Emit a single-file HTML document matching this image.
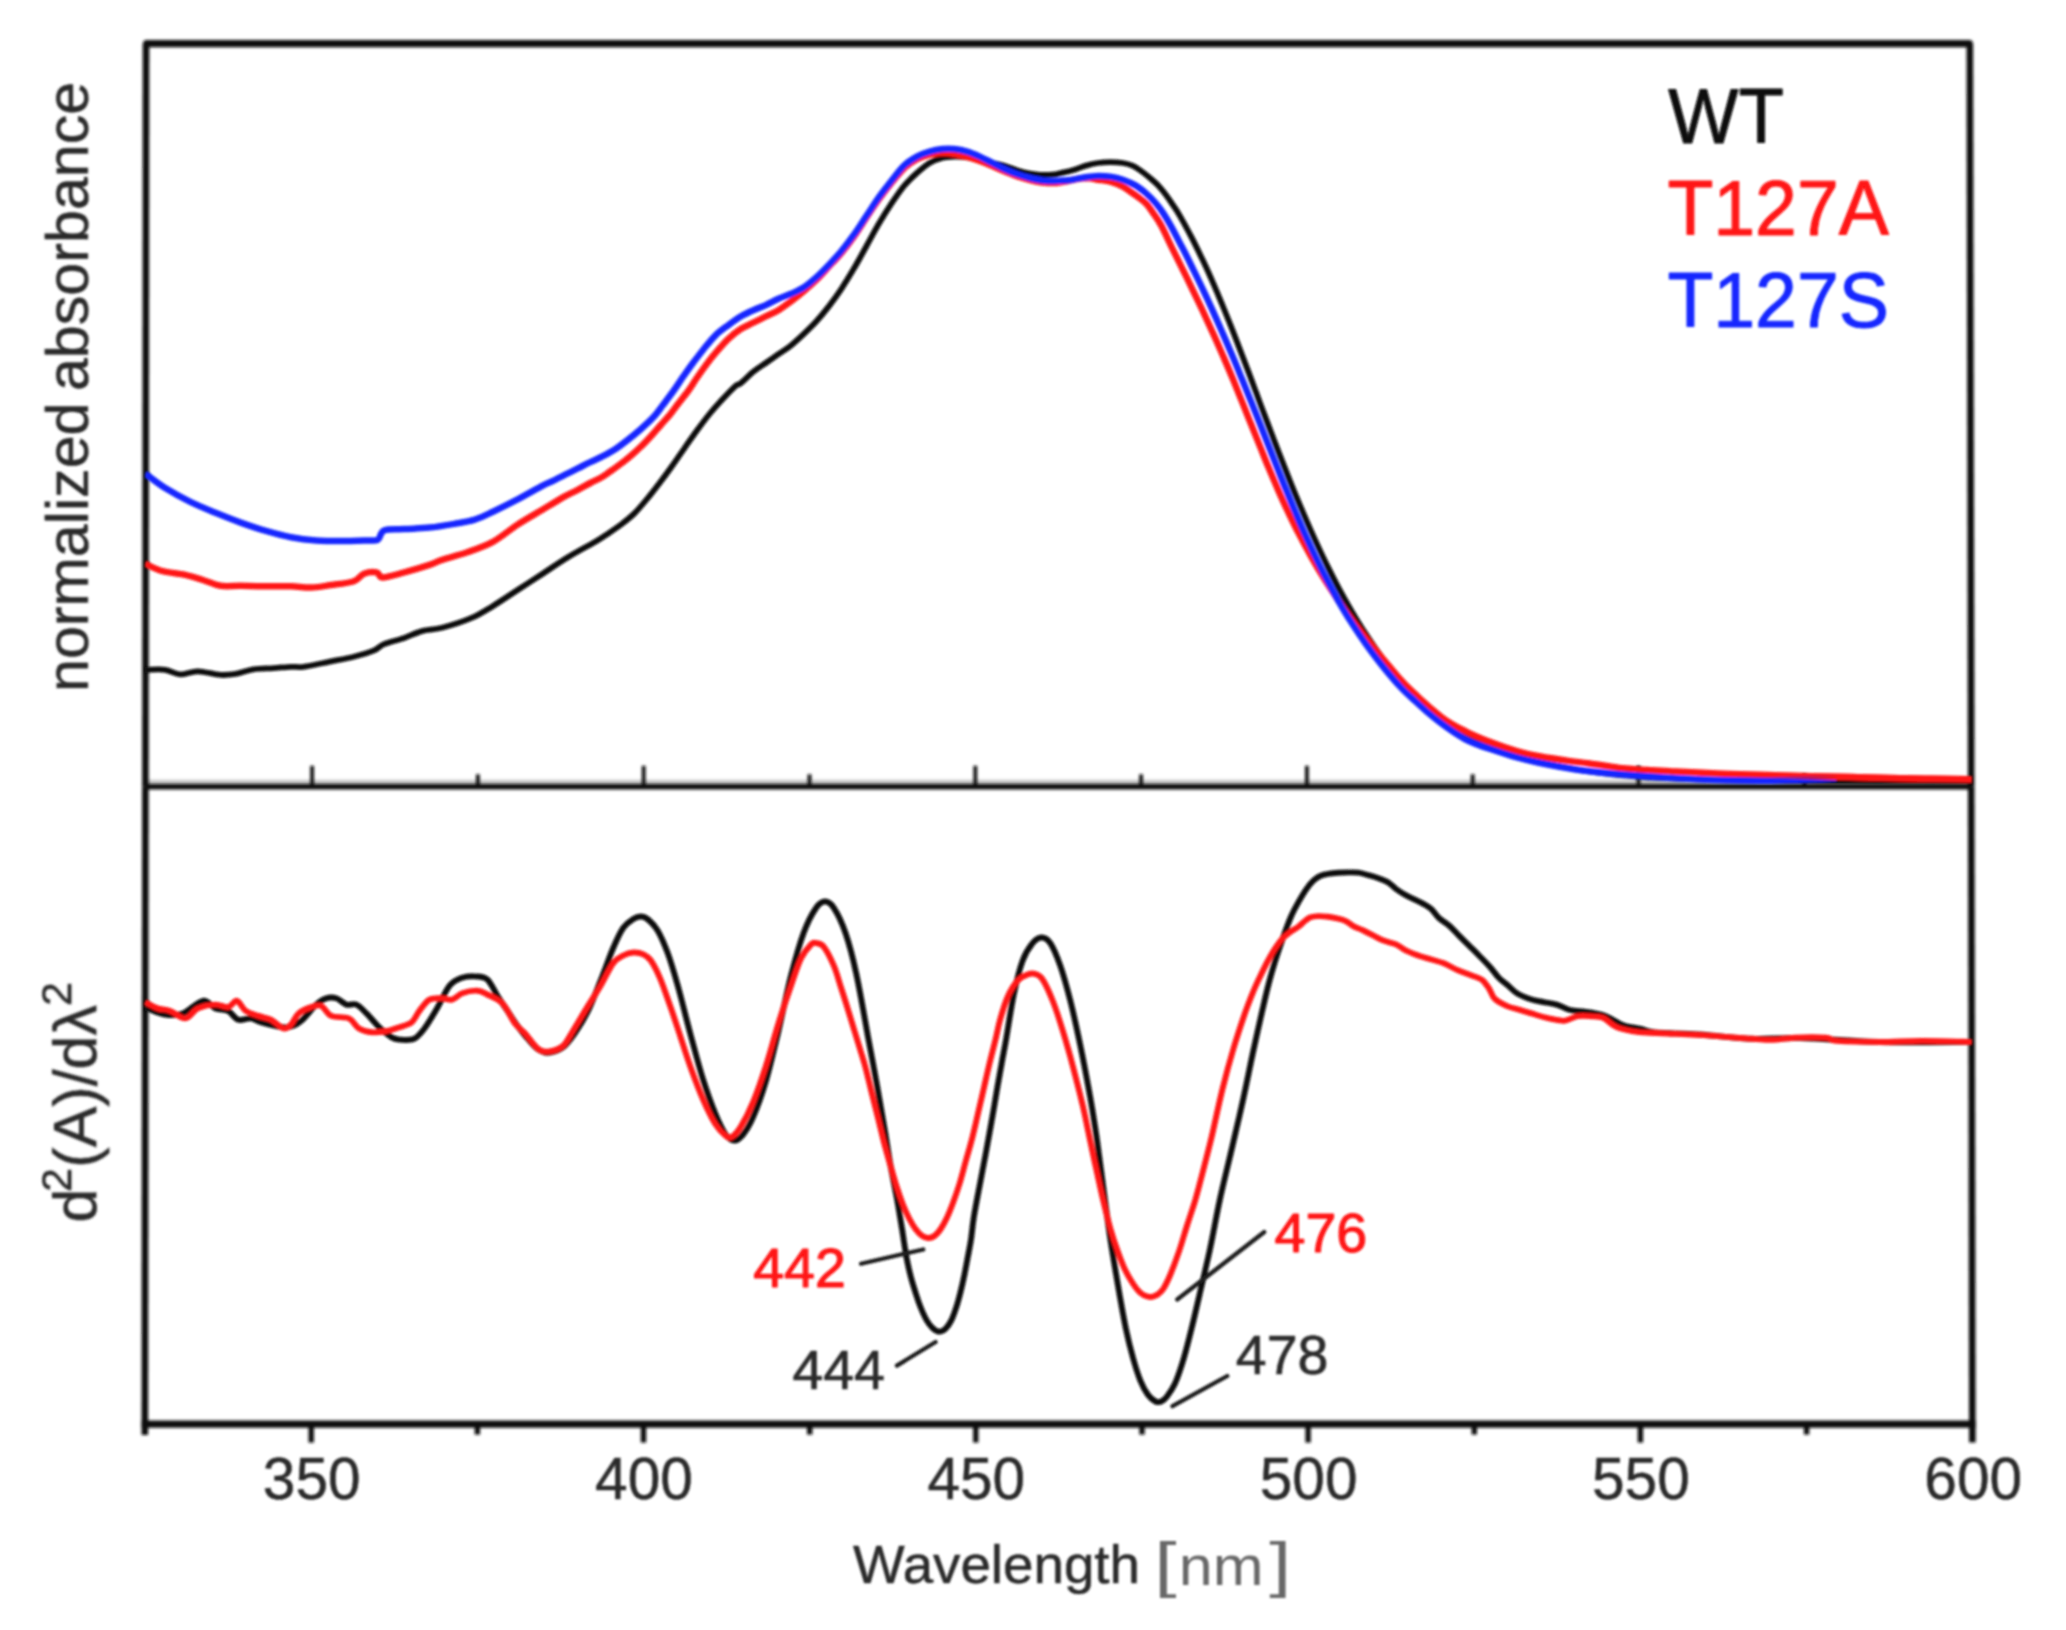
<!DOCTYPE html>
<html lang="en"><head><meta charset="utf-8"><title>Absorbance spectra</title>
<style>html,body{margin:0;padding:0;background:#fff}body{width:2066px;height:1630px;overflow:hidden}svg{display:block}text{font-family:"Liberation Sans",sans-serif}</style></head><body>
<svg width="2066" height="1630" viewBox="0 0 2066 1630">
<rect width="2066" height="1630" fill="#fff"/>
<defs><filter id="bl" x="0" y="0" width="2066" height="1630" filterUnits="userSpaceOnUse"><feGaussianBlur stdDeviation="1.55"/></filter><filter id="bt" x="0" y="0" width="2066" height="1630" filterUnits="userSpaceOnUse"><feGaussianBlur stdDeviation="1.25"/></filter><filter id="bc" x="0" y="0" width="2066" height="1630" filterUnits="userSpaceOnUse"><feGaussianBlur stdDeviation="1.0"/></filter><linearGradient id="tg" gradientUnits="userSpaceOnUse" x1="1740" y1="0" x2="1840" y2="0"><stop offset="0" stop-color="#ff1212" stop-opacity="0"/><stop offset="1" stop-color="#ff1212" stop-opacity="1"/></linearGradient><clipPath id="ct"><rect x="145.0" y="43.7" width="1826.8" height="747.1"/></clipPath><clipPath id="cb"><rect x="143.8" y="786.8" width="1829.6" height="637.3"/></clipPath></defs>
<g filter="url(#bl)">
<g stroke="#101010" fill="none" stroke-linecap="butt">
<path d="M145.4 786.8 L146.0 43.7" stroke-width="6.6"/>
<path d="M1971.2 786.8 L1969.8 43.7" stroke-width="6.6"/>
<path d="M146.6 43.7 L1969.2 43.7" stroke-width="7.3" stroke-linecap="round"/>
<path d="M145.4 786.8 L144.8 1435.1" stroke-width="6.6"/>
<path d="M1971.2 786.8 L1972.4 1442.6" stroke-width="6.6"/>
<line x1="141.5" y1="1424.1" x2="1975.7" y2="1424.1" stroke-width="7.3"/>
<line x1="145.4" y1="782.2" x2="1971.2" y2="782.2" stroke-width="5" stroke-opacity="0.22"/>
<line x1="145.4" y1="786.8" x2="1971.2" y2="786.8" stroke-width="5.6"/>
<line x1="311.2" y1="1424.1" x2="311.2" y2="1442.6" stroke-width="5.4"/>
<line x1="312.1" y1="786.8" x2="312.1" y2="765.8" stroke-width="3.8"/>
<line x1="643.5" y1="1424.1" x2="643.5" y2="1442.6" stroke-width="5.4"/>
<line x1="643.7" y1="786.8" x2="643.7" y2="765.8" stroke-width="3.8"/>
<line x1="975.8" y1="1424.1" x2="975.8" y2="1442.6" stroke-width="5.4"/>
<line x1="975.3" y1="786.8" x2="975.3" y2="765.8" stroke-width="3.8"/>
<line x1="1308.1" y1="1424.1" x2="1308.1" y2="1442.6" stroke-width="5.4"/>
<line x1="1306.9" y1="786.8" x2="1306.9" y2="765.8" stroke-width="3.8"/>
<line x1="1640.4" y1="1424.1" x2="1640.4" y2="1442.6" stroke-width="5.4"/>
<line x1="1638.5" y1="786.8" x2="1638.5" y2="765.8" stroke-width="3.8"/>
<line x1="477.4" y1="1424.1" x2="477.4" y2="1434.6" stroke-width="5.4"/>
<line x1="477.9" y1="786.8" x2="477.9" y2="774.3" stroke-width="3.8"/>
<line x1="809.7" y1="1424.1" x2="809.7" y2="1434.6" stroke-width="5.4"/>
<line x1="809.5" y1="786.8" x2="809.5" y2="774.3" stroke-width="3.8"/>
<line x1="1142.0" y1="1424.1" x2="1142.0" y2="1434.6" stroke-width="5.4"/>
<line x1="1141.1" y1="786.8" x2="1141.1" y2="774.3" stroke-width="3.8"/>
<line x1="1474.3" y1="1424.1" x2="1474.3" y2="1434.6" stroke-width="5.4"/>
<line x1="1472.7" y1="786.8" x2="1472.7" y2="774.3" stroke-width="3.8"/>
<line x1="1806.6" y1="1424.1" x2="1806.6" y2="1434.6" stroke-width="5.4"/>
<line x1="1804.3" y1="786.8" x2="1804.3" y2="774.3" stroke-width="3.8"/>
</g>
</g>
<g filter="url(#bc)">
<g clip-path="url(#ct)" fill="none" stroke-linejoin="round" stroke-linecap="butt" stroke-width="6.5">
<path stroke="#0e0e0e" stroke-width="5.8" d="M145.0 669.5C145.4 669.5 144.2 669.8 147.6 669.8C151.0 669.8 159.8 669.0 165.2 669.8C170.6 670.6 174.9 674.1 180.3 674.4C185.8 674.6 191.2 671.2 197.9 671.3C204.6 671.4 214.2 674.5 220.5 674.9C226.8 675.3 230.1 674.8 235.6 673.9C241.1 673.0 247.0 670.3 253.3 669.3C259.6 668.3 267.1 668.5 273.4 668.1C279.7 667.7 286.0 667.0 291.0 666.8C296.0 666.6 297.3 667.6 303.6 666.8C309.9 666.0 320.4 663.5 328.8 661.8C337.2 660.1 346.3 658.6 353.9 656.7C361.4 654.8 369.1 652.5 374.1 650.4C379.1 648.3 379.1 646.2 384.1 644.1C389.1 642.0 398.0 640.1 404.3 637.9C410.6 635.7 415.6 632.8 421.9 631.1C428.2 629.4 433.6 630.0 442.0 627.8C450.4 625.6 463.8 621.3 472.2 617.7C480.6 614.1 484.8 611.0 492.4 606.4C500.0 601.8 509.2 595.5 517.6 590.0C526.0 584.5 534.3 579.2 542.7 573.7C551.1 568.2 558.9 562.8 567.9 557.3C576.9 551.8 589.7 545.1 596.6 541.0C603.5 536.9 605.0 535.6 609.2 532.8C613.4 530.0 617.6 527.2 621.8 524.0C626.0 520.8 630.2 517.6 634.4 513.4C638.6 509.2 642.8 504.1 647.0 499.0C651.2 493.9 655.4 488.5 659.6 483.0C663.8 477.5 667.9 471.9 672.1 466.0C676.3 460.1 680.5 453.8 684.7 447.8C688.9 441.8 693.1 435.7 697.3 430.0C701.5 424.3 705.7 418.6 709.9 413.5C714.1 408.4 718.3 403.8 722.5 399.3C726.7 394.8 732.1 389.1 735.1 386.4C738.1 383.7 737.7 385.6 740.7 383.2C743.7 380.8 749.1 375.2 753.3 371.8C757.5 368.4 761.6 365.9 765.8 363.0C770.0 360.1 774.2 357.1 778.4 354.2C782.6 351.3 786.8 348.8 791.0 345.4C795.2 342.0 799.4 338.1 803.6 334.1C807.8 330.1 812.0 326.1 816.2 321.5C820.4 316.9 824.6 311.8 828.8 306.4C833.0 300.9 837.2 295.1 841.4 288.8C845.6 282.5 849.7 275.7 853.9 268.6C858.1 261.5 862.3 253.6 866.5 246.0C870.7 238.4 874.9 230.4 879.1 223.3C883.3 216.2 887.5 209.5 891.7 203.2C895.9 196.9 900.1 190.6 904.3 185.6C908.5 180.6 912.7 176.8 916.9 173.0C921.1 169.2 925.3 165.4 929.5 162.9C933.7 160.4 937.8 159.0 942.0 157.9C946.2 156.8 950.4 156.7 954.6 156.6C958.8 156.5 963.0 156.8 967.2 157.4C971.4 158.0 975.6 159.0 979.8 159.9C984.0 160.8 988.2 161.9 992.4 162.9C996.6 163.9 1000.8 164.6 1005.0 165.9C1009.2 167.2 1013.3 169.2 1017.5 170.5C1021.7 171.8 1025.9 172.8 1030.1 173.5C1034.3 174.2 1038.5 174.9 1042.7 175.0C1046.9 175.1 1052.4 174.6 1055.3 174.3C1058.2 174.0 1057.1 173.9 1060.0 173.2C1062.9 172.5 1068.4 171.5 1072.6 170.3C1076.8 169.1 1081.0 167.1 1085.2 165.9C1089.4 164.7 1093.6 163.6 1097.8 163.0C1102.0 162.4 1106.1 162.1 1110.3 162.1C1114.5 162.1 1119.1 162.4 1122.9 163.0C1126.7 163.6 1129.8 164.5 1133.0 165.9C1136.2 167.3 1138.9 169.4 1141.8 171.5C1144.7 173.6 1147.9 176.2 1150.6 178.5C1153.3 180.8 1155.9 183.0 1158.2 185.4C1160.5 187.8 1162.2 190.0 1164.5 193.0C1166.8 196.0 1169.5 199.8 1172.0 203.6C1174.5 207.4 1176.4 209.9 1179.7 215.6C1183.0 221.3 1187.9 230.3 1191.7 237.6C1195.5 244.9 1199.0 252.3 1202.5 259.6C1206.0 266.9 1209.3 274.3 1212.5 281.6C1215.7 288.9 1218.8 296.3 1221.8 303.6C1224.8 310.9 1227.8 318.3 1230.7 325.6C1233.6 332.9 1236.4 340.3 1239.2 347.6C1242.0 354.9 1244.8 362.3 1247.6 369.6C1250.4 376.9 1253.1 384.3 1255.8 391.6C1258.5 398.9 1261.2 406.3 1264.0 413.6C1266.8 420.9 1269.5 428.3 1272.3 435.6C1275.1 442.9 1277.9 450.3 1280.8 457.6C1283.7 464.9 1286.5 472.3 1289.4 479.6C1292.3 486.9 1295.3 494.3 1298.4 501.6C1301.5 508.9 1304.6 516.3 1307.8 523.6C1311.0 530.9 1314.3 538.3 1317.7 545.6C1321.1 552.9 1324.6 560.3 1328.2 567.6C1331.8 574.9 1335.5 582.3 1339.5 589.6C1343.5 596.9 1347.6 604.3 1351.9 611.6C1356.2 618.9 1360.7 626.3 1365.5 633.6C1370.3 640.9 1375.2 648.3 1380.6 655.6C1385.9 662.9 1387.5 666.9 1397.6 677.6C1407.7 688.3 1429.9 710.3 1441.4 720.0C1452.9 729.7 1458.1 731.3 1466.5 736.0C1474.9 740.7 1483.3 744.7 1491.7 748.0C1500.1 751.3 1508.5 753.6 1516.9 756.0C1525.3 758.4 1529.4 759.8 1542.0 762.5C1554.6 765.2 1575.6 769.6 1592.4 772.0C1609.2 774.4 1621.8 775.7 1642.7 777.0C1663.6 778.3 1691.8 779.3 1718.0 780.0C1744.2 780.7 1757.7 780.8 1800.0 781.0C1842.3 781.2 1943.3 781.4 1972.0 781.5"/>
<path stroke="#ff1212" d="M145.0 563.5C145.4 563.7 144.7 563.6 147.6 564.9C150.5 566.2 156.4 569.5 162.7 571.2C169.0 572.9 178.6 573.4 185.3 574.9C192.0 576.4 197.0 578.2 202.9 580.0C208.8 581.8 214.2 584.8 220.5 585.8C226.8 586.8 233.1 585.7 240.7 585.8C248.3 585.9 257.5 586.2 265.9 586.3C274.3 586.4 283.4 586.1 291.0 586.3C298.6 586.5 304.5 587.7 311.2 587.5C317.9 587.3 324.2 586.0 331.3 585.0C338.4 584.0 348.4 583.1 353.9 581.2C359.3 579.3 360.2 575.2 364.0 573.7C367.8 572.2 373.5 571.8 376.6 572.4C379.8 573.0 378.3 577.4 382.9 577.4C387.5 577.4 396.5 574.5 404.3 572.4C412.1 570.3 423.2 567.0 429.5 564.9C435.8 562.8 435.7 561.9 442.0 559.8C448.3 557.7 458.8 555.2 467.2 552.3C475.6 549.4 484.0 546.8 492.4 542.2C500.8 537.6 509.2 530.1 517.6 524.6C526.0 519.1 536.9 513.0 542.7 509.5C548.5 506.0 548.9 505.8 552.6 503.6C556.4 501.4 561.0 498.4 565.2 496.1C569.4 493.8 573.6 492.0 577.8 489.8C582.0 487.6 586.5 485.0 590.3 483.0C594.1 481.0 597.0 479.9 600.4 478.0C603.8 476.1 607.1 473.6 610.5 471.3C613.9 469.0 617.1 466.6 620.5 464.0C623.9 461.4 627.2 458.9 630.6 456.0C634.0 453.1 637.4 450.1 640.7 446.8C644.1 443.6 647.4 440.1 650.7 436.5C654.1 432.9 657.4 428.8 660.8 425.0C664.2 421.2 668.0 417.1 670.9 413.5C673.8 409.9 675.5 407.3 678.4 403.5C681.3 399.7 685.5 394.6 688.5 390.5C691.5 386.4 693.2 383.3 696.1 379.0C699.0 374.7 702.8 369.3 706.1 364.8C709.5 360.3 712.5 356.5 716.2 352.2C719.9 347.9 724.0 343.0 728.1 339.1C732.2 335.2 736.5 331.7 740.7 329.0C744.9 326.3 749.1 324.8 753.3 322.7C757.5 320.6 761.6 318.5 765.8 316.4C770.0 314.3 774.2 312.7 778.4 310.2C782.6 307.7 786.8 304.4 791.0 301.3C795.2 298.2 799.4 294.9 803.6 291.3C807.8 287.8 812.0 284.1 816.2 280.0C820.4 275.9 824.6 271.1 828.8 266.6C833.0 262.1 837.2 257.8 841.4 252.8C845.6 247.8 849.7 242.4 853.9 236.5C858.1 230.6 862.3 223.8 866.5 217.5C870.7 211.2 874.9 204.7 879.1 198.9C883.3 193.1 887.5 187.7 891.7 182.5C895.9 177.3 900.1 171.9 904.3 168.0C908.5 164.1 912.7 161.2 916.9 159.0C921.1 156.8 925.3 155.5 929.5 154.5C933.7 153.5 937.8 153.1 942.0 153.0C946.2 152.9 950.4 153.3 954.6 154.0C958.8 154.7 963.0 155.8 967.2 157.0C971.4 158.2 975.6 159.5 979.8 161.0C984.0 162.5 988.2 164.2 992.4 166.0C996.6 167.8 1000.8 169.8 1005.0 171.5C1009.2 173.2 1013.3 175.1 1017.5 176.5C1021.7 177.9 1025.9 179.0 1030.1 180.0C1034.3 181.0 1038.5 182.0 1042.7 182.5C1046.9 183.0 1051.1 183.2 1055.3 183.0C1059.5 182.8 1063.7 181.8 1067.9 181.0C1072.1 180.2 1076.8 178.9 1080.5 178.5C1084.2 178.1 1087.1 178.1 1090.0 178.3C1092.9 178.5 1094.4 179.1 1097.8 179.7C1101.2 180.2 1106.1 180.4 1110.3 181.6C1114.5 182.8 1119.1 184.6 1122.9 186.6C1126.7 188.6 1130.2 191.5 1133.0 193.5C1135.8 195.5 1137.8 196.8 1140.0 198.5C1142.2 200.2 1144.3 201.6 1146.5 204.0C1148.7 206.4 1150.7 209.5 1153.2 213.1C1155.7 216.7 1158.2 219.8 1161.3 225.6C1164.4 231.3 1168.3 240.3 1171.9 247.6C1175.5 254.9 1179.2 262.3 1182.8 269.6C1186.4 276.9 1190.0 284.3 1193.5 291.6C1197.0 298.9 1200.6 306.3 1204.0 313.6C1207.4 320.9 1210.8 328.3 1214.1 335.6C1217.4 342.9 1220.6 350.3 1223.8 357.6C1227.0 364.9 1230.1 372.3 1233.1 379.6C1236.1 386.9 1239.0 394.3 1242.0 401.6C1245.0 408.9 1247.8 416.3 1250.8 423.6C1253.8 430.9 1256.7 438.3 1259.7 445.6C1262.7 452.9 1265.5 460.3 1268.6 467.6C1271.6 474.9 1274.8 482.3 1278.0 489.6C1281.2 496.9 1284.5 504.3 1288.0 511.6C1291.5 518.9 1295.0 526.3 1298.8 533.6C1302.6 540.9 1306.5 548.3 1310.6 555.6C1314.7 562.9 1319.0 570.3 1323.5 577.6C1328.0 584.9 1332.8 592.3 1337.8 599.6C1342.8 606.9 1348.0 614.3 1353.4 621.6C1358.8 628.9 1364.5 636.3 1370.4 643.6C1376.3 650.9 1382.4 658.3 1388.7 665.6C1395.0 672.9 1399.5 679.0 1408.3 687.6C1417.1 696.2 1431.7 709.6 1441.4 717.0C1451.1 724.4 1458.1 727.5 1466.5 731.8C1474.9 736.0 1483.3 739.3 1491.7 742.5C1500.1 745.7 1508.5 748.6 1516.9 751.0C1525.3 753.4 1533.6 755.2 1542.0 756.8C1550.4 758.4 1559.5 759.5 1567.2 760.6C1574.9 761.7 1581.4 762.3 1588.0 763.2C1594.6 764.1 1600.7 765.1 1607.0 766.0C1613.3 766.9 1618.7 767.8 1625.9 768.5C1633.1 769.2 1641.7 769.7 1650.0 770.2C1658.3 770.7 1664.7 771.1 1676.0 771.6C1687.3 772.1 1704.0 772.9 1718.0 773.4C1732.0 773.9 1746.3 774.4 1760.0 774.8C1773.7 775.2 1785.0 775.5 1800.0 775.9C1815.0 776.3 1833.3 776.7 1850.0 777.1C1866.7 777.5 1879.7 777.9 1900.0 778.3C1920.3 778.7 1960.0 779.1 1972.0 779.3"/>
<path stroke="#1226ff" d="M145.0 474.0C145.4 474.2 144.2 473.1 147.6 475.5C151.0 477.9 158.1 483.7 165.2 488.1C172.3 492.5 181.9 497.8 190.3 501.9C198.7 506.0 207.1 509.3 215.5 512.8C223.9 516.2 232.3 519.6 240.7 522.6C249.1 525.6 257.5 528.5 265.9 530.9C274.3 533.3 282.6 535.6 291.0 537.2C299.4 538.8 307.8 539.8 316.2 540.4C324.6 541.0 333.0 541.0 341.4 541.0C349.8 541.0 360.4 540.6 366.5 540.4C372.6 540.2 375.0 541.4 377.9 539.7C380.8 538.0 379.7 532.2 384.1 530.4C388.5 528.6 396.7 529.6 404.3 529.1C411.9 528.6 421.1 528.5 429.5 527.6C437.9 526.7 447.1 525.1 454.6 523.8C462.2 522.5 468.5 521.6 474.8 519.6C481.1 517.6 485.3 515.4 492.4 512.0C499.5 508.6 509.2 503.8 517.6 499.4C526.0 495.0 536.9 488.7 542.7 485.6C548.5 482.5 548.9 482.8 552.6 481.0C556.4 479.2 561.0 476.8 565.2 474.7C569.4 472.6 573.6 470.5 577.8 468.4C582.0 466.3 586.1 464.1 590.3 462.1C594.5 460.1 598.7 458.4 602.9 456.2C607.1 454.0 611.3 451.8 615.5 449.0C619.7 446.2 623.9 442.9 628.1 439.6C632.3 436.3 636.5 432.9 640.7 429.2C644.9 425.5 649.5 421.4 653.3 417.3C657.1 413.2 659.9 409.0 663.3 404.6C666.6 400.2 670.0 395.7 673.4 391.0C676.8 386.3 680.1 381.0 683.5 376.2C686.9 371.4 690.1 366.8 693.5 362.3C696.9 357.8 699.9 353.7 703.6 349.2C707.3 344.7 711.4 339.3 715.5 335.3C719.6 331.3 723.9 328.4 728.1 325.3C732.3 322.2 736.5 319.0 740.7 316.5C744.9 314.0 749.1 312.1 753.3 310.2C757.5 308.3 761.6 307.0 765.8 305.1C770.0 303.2 774.2 300.7 778.4 298.8C782.6 296.9 786.8 295.7 791.0 293.8C795.2 291.9 799.4 290.2 803.6 287.5C807.8 284.8 812.0 281.2 816.2 277.4C820.4 273.6 824.6 269.3 828.8 264.9C833.0 260.5 837.2 256.0 841.4 251.0C845.6 246.0 849.7 240.6 853.9 234.7C858.1 228.8 862.3 222.1 866.5 215.8C870.7 209.5 874.9 202.8 879.1 196.9C883.3 191.0 887.5 185.8 891.7 180.5C895.9 175.2 900.1 169.4 904.3 165.4C908.5 161.4 912.7 158.9 916.9 156.6C921.1 154.3 925.3 152.8 929.5 151.6C933.7 150.3 937.8 149.5 942.0 149.1C946.2 148.7 950.4 148.7 954.6 149.1C958.8 149.5 963.0 150.3 967.2 151.6C971.4 152.8 975.6 154.7 979.8 156.6C984.0 158.5 988.2 160.8 992.4 162.9C996.6 165.0 1000.8 167.3 1005.0 169.2C1009.2 171.1 1013.3 172.8 1017.5 174.3C1021.7 175.8 1025.9 177.0 1030.1 178.0C1034.3 179.0 1038.5 180.0 1042.7 180.5C1046.9 181.0 1052.4 181.0 1055.3 181.0C1058.2 181.0 1057.1 180.9 1060.0 180.7C1062.9 180.5 1068.4 180.3 1072.6 179.7C1076.8 179.1 1081.0 177.8 1085.2 177.2C1089.4 176.6 1093.6 176.0 1097.8 175.9C1102.0 175.8 1106.1 176.0 1110.3 176.6C1114.5 177.2 1118.7 178.2 1122.9 179.7C1127.1 181.2 1131.7 183.2 1135.5 185.4C1139.3 187.6 1142.2 190.0 1145.6 192.9C1148.9 195.8 1152.7 199.6 1155.6 203.0C1158.5 206.4 1160.7 209.3 1163.2 213.1C1165.7 216.9 1167.5 219.8 1170.7 225.6C1173.9 231.3 1178.5 240.3 1182.3 247.6C1186.1 254.9 1189.7 262.3 1193.3 269.6C1196.9 276.9 1200.5 284.3 1203.9 291.6C1207.4 298.9 1210.7 306.3 1214.0 313.6C1217.3 320.9 1220.5 328.3 1223.7 335.6C1226.9 342.9 1230.0 350.3 1233.1 357.6C1236.2 364.9 1239.2 372.3 1242.2 379.6C1245.2 386.9 1248.1 394.3 1251.1 401.6C1254.0 408.9 1257.0 416.3 1259.9 423.6C1262.8 430.9 1265.6 438.3 1268.5 445.6C1271.4 452.9 1274.3 460.3 1277.2 467.6C1280.1 474.9 1283.0 482.3 1286.0 489.6C1289.0 496.9 1292.0 504.3 1295.1 511.6C1298.2 518.9 1301.3 526.3 1304.6 533.6C1307.9 540.9 1311.3 548.3 1314.8 555.6C1318.3 562.9 1321.9 570.3 1325.7 577.6C1329.5 584.9 1333.4 592.3 1337.6 599.6C1341.8 606.9 1346.1 614.3 1350.8 621.6C1355.5 628.9 1360.4 636.3 1365.6 643.6C1370.8 650.9 1376.3 658.3 1382.2 665.6C1388.1 672.9 1395.3 681.5 1401.0 687.6C1406.7 693.7 1411.6 697.7 1416.2 702.0C1420.8 706.3 1424.6 709.8 1428.8 713.4C1433.0 717.0 1437.2 720.3 1441.4 723.4C1445.6 726.5 1449.7 729.5 1453.9 732.2C1458.1 734.9 1462.3 737.6 1466.5 739.8C1470.7 741.9 1474.9 743.5 1479.1 745.1C1483.3 746.7 1485.4 747.4 1491.7 749.5C1498.0 751.6 1509.2 755.3 1516.9 757.5C1524.6 759.7 1528.0 760.5 1537.8 762.5C1547.6 764.5 1562.9 767.6 1575.5 769.5C1588.1 771.4 1602.8 772.8 1613.3 773.8C1623.8 774.8 1627.9 775.1 1638.4 775.8C1648.9 776.5 1663.6 777.5 1676.2 778.2C1688.8 778.9 1700.0 779.6 1714.0 780.0C1728.0 780.4 1747.3 780.7 1760.0 780.7C1772.7 780.7 1780.8 780.3 1790.0 780.0C1799.2 779.7 1807.3 779.4 1815.0 779.0C1822.7 778.6 1832.5 778.1 1836.0 777.9"/>
<path stroke="url(#tg)" d="M1718.0 773.4C1725.0 773.6 1746.3 774.4 1760.0 774.8C1773.7 775.2 1785.0 775.5 1800.0 775.9C1815.0 776.3 1833.3 776.7 1850.0 777.1C1866.7 777.5 1879.7 777.9 1900.0 778.3C1920.3 778.7 1960.0 779.1 1972.0 779.3"/>
</g>
<g clip-path="url(#cb)" fill="none" stroke-linejoin="round" stroke-linecap="butt" stroke-width="5.9">
<path stroke="#0e0e0e" d="M145.0 1007.5C145.4 1007.6 144.2 1007.2 147.6 1008.4C151.0 1009.6 159.3 1013.9 165.2 1014.7C171.1 1015.5 176.5 1015.7 182.8 1013.4C189.1 1011.1 197.5 1001.6 202.9 1000.8C208.3 1000.0 211.3 1006.7 215.5 1008.4C219.7 1010.1 224.3 1009.0 228.1 1010.9C231.9 1012.8 234.4 1018.5 238.2 1019.7C242.0 1021.0 246.9 1018.0 250.7 1018.4C254.5 1018.8 256.6 1020.9 260.8 1022.2C265.0 1023.5 271.3 1025.2 275.9 1026.0C280.5 1026.8 284.3 1028.0 288.5 1027.2C292.7 1026.4 296.5 1024.8 301.1 1021.0C305.7 1017.2 312.0 1008.4 316.2 1004.6C320.4 1000.8 322.9 999.3 326.3 998.3C329.7 997.2 333.0 997.2 336.3 998.3C339.6 999.3 343.0 1003.5 346.4 1004.6C349.8 1005.7 353.1 1003.1 356.5 1004.6C359.9 1006.1 362.7 1009.6 366.5 1013.4C370.3 1017.2 374.9 1023.2 379.1 1027.2C383.3 1031.2 387.9 1035.2 391.7 1037.3C395.5 1039.4 398.0 1039.6 401.8 1039.8C405.6 1040.0 410.6 1040.5 414.4 1038.6C418.2 1036.7 420.6 1033.5 424.4 1028.5C428.2 1023.5 432.8 1015.5 437.0 1008.4C441.2 1001.3 445.4 990.8 449.6 985.7C453.8 980.6 458.0 979.2 462.2 977.7C466.4 976.2 470.6 976.1 474.8 976.4C479.0 976.7 483.5 976.2 487.3 979.4C491.1 982.6 494.0 990.5 497.4 995.8C500.8 1001.0 504.1 1005.9 507.5 1010.9C510.9 1015.9 514.2 1021.4 517.6 1026.0C521.0 1030.6 524.2 1034.8 527.6 1038.6C531.0 1042.4 534.4 1046.8 537.7 1049.1C541.1 1051.4 543.5 1053.0 547.7 1052.7C551.9 1052.4 558.2 1050.8 562.8 1047.4C567.4 1044.0 571.2 1038.4 575.4 1032.3C579.6 1026.2 583.8 1019.5 588.0 1010.9C592.2 1002.3 596.4 991.2 600.6 980.7C604.8 970.2 609.4 956.8 613.2 948.0C617.0 939.2 619.9 932.6 623.3 927.8C626.6 923.0 630.3 920.9 633.3 919.0C636.2 917.1 638.6 916.5 641.0 916.5C643.4 916.5 644.8 916.8 647.6 919.1C650.4 921.4 654.2 924.8 657.6 930.5C661.0 936.2 664.3 943.9 667.7 953.1C671.1 962.3 674.0 972.4 677.8 985.8C681.6 999.2 686.1 1018.2 690.3 1033.7C694.5 1049.2 698.7 1065.6 702.9 1079.0C707.1 1092.4 711.7 1105.0 715.5 1114.2C719.3 1123.4 722.5 1130.0 725.6 1134.4C728.8 1138.8 731.5 1140.6 734.4 1140.6C737.3 1140.6 740.1 1138.4 743.2 1134.4C746.4 1130.4 749.5 1125.5 753.3 1116.7C757.1 1107.9 761.6 1095.8 765.8 1081.5C770.0 1067.2 774.2 1048.8 778.4 1031.2C782.6 1013.6 786.8 992.2 791.0 975.8C795.2 959.4 799.4 944.3 803.6 933.0C807.8 921.7 812.6 913.0 816.2 907.8C819.8 902.5 822.1 901.5 825.0 901.5C827.9 901.5 830.4 902.5 833.8 907.8C837.2 913.0 841.8 922.1 845.5 933.0C849.2 943.9 852.4 955.5 856.2 973.3C860.1 991.1 865.6 1023.6 868.6 1040.0C871.6 1056.4 872.6 1061.0 874.5 1071.5C876.4 1082.0 878.3 1092.4 880.1 1102.9C881.9 1113.4 883.8 1123.9 885.5 1134.4C887.2 1144.9 888.7 1155.3 890.6 1165.8C892.5 1176.3 894.8 1186.8 896.7 1197.3C898.6 1207.8 900.8 1221.6 902.0 1228.8C903.2 1236.0 903.0 1235.5 903.8 1240.6C904.6 1245.7 905.7 1253.3 906.9 1259.5C908.1 1265.7 909.5 1271.8 911.0 1277.6C912.5 1283.4 914.4 1289.0 916.0 1294.1C917.6 1299.2 919.1 1303.6 920.9 1308.0C922.7 1312.4 924.8 1317.1 926.7 1320.4C928.6 1323.7 930.4 1325.9 932.4 1327.8C934.4 1329.7 936.8 1331.5 939.0 1331.6C941.2 1331.7 943.6 1330.5 945.6 1328.6C947.6 1326.7 949.5 1324.0 951.3 1320.4C953.1 1316.8 954.8 1311.9 956.3 1307.2C957.8 1302.5 959.0 1297.9 960.4 1292.4C961.8 1286.9 963.3 1280.2 964.5 1274.3C965.7 1268.4 966.7 1262.9 967.8 1257.0C968.9 1251.1 970.1 1245.7 971.1 1238.9C972.1 1232.1 972.5 1225.0 974.0 1216.0C975.5 1207.0 977.8 1195.2 979.8 1184.7C981.8 1174.2 983.8 1163.8 985.8 1153.3C987.8 1142.8 989.6 1132.3 991.5 1121.8C993.4 1111.3 995.1 1100.4 996.9 1090.3C998.6 1080.2 1000.5 1069.8 1002.0 1061.4C1003.5 1053.0 1004.0 1051.3 1006.0 1040.0C1008.0 1028.7 1011.2 1006.6 1014.0 993.4C1016.8 980.2 1019.5 969.1 1022.6 960.7C1025.7 952.3 1029.4 947.0 1032.6 943.1C1035.8 939.2 1038.5 937.5 1041.5 937.5C1044.5 937.5 1047.2 938.4 1050.3 943.1C1053.4 947.8 1056.9 956.1 1060.3 965.7C1063.7 975.4 1067.0 987.6 1070.4 1001.0C1073.8 1014.4 1077.2 1030.5 1080.5 1046.3C1083.8 1062.1 1087.2 1080.4 1090.0 1096.0C1092.8 1111.6 1094.7 1123.8 1097.0 1140.0C1099.3 1156.2 1101.7 1175.7 1104.0 1193.0C1106.3 1210.3 1108.7 1228.1 1111.1 1243.8C1113.5 1259.5 1115.9 1273.3 1118.3 1287.3C1120.7 1301.3 1123.2 1315.8 1125.7 1327.8C1128.2 1339.8 1130.8 1350.0 1133.3 1359.0C1135.8 1368.0 1138.3 1375.7 1140.8 1381.7C1143.2 1387.7 1145.5 1391.6 1148.0 1394.9C1150.5 1398.2 1153.3 1400.4 1155.5 1401.5C1157.7 1402.6 1159.3 1402.3 1161.2 1401.5C1163.1 1400.7 1164.5 1399.7 1166.8 1396.7C1169.1 1393.7 1172.3 1389.5 1175.0 1383.5C1177.7 1377.5 1180.3 1369.7 1183.0 1360.9C1185.7 1352.1 1188.2 1341.7 1191.0 1330.7C1193.8 1319.7 1196.4 1308.2 1199.5 1294.8C1202.6 1281.3 1206.4 1265.8 1209.8 1250.0C1213.2 1234.2 1216.1 1217.0 1219.7 1200.3C1223.3 1183.6 1227.6 1166.7 1231.5 1150.0C1235.4 1133.3 1239.3 1116.7 1243.0 1100.0C1246.7 1083.3 1250.6 1063.3 1253.5 1050.0C1256.4 1036.7 1257.8 1030.4 1260.2 1019.9C1262.6 1009.4 1265.3 997.1 1267.8 987.2C1270.3 977.3 1272.8 968.9 1275.3 960.7C1277.8 952.5 1280.4 945.2 1282.9 938.1C1285.4 931.0 1287.9 923.9 1290.4 918.0C1292.9 912.1 1295.5 907.5 1298.0 902.9C1300.5 898.3 1303.0 894.0 1305.5 890.3C1308.0 886.6 1310.6 883.2 1313.1 880.8C1315.6 878.4 1318.1 876.9 1320.6 875.8C1323.1 874.6 1325.3 874.4 1328.2 873.9C1331.1 873.4 1334.9 873.0 1338.2 872.7C1341.5 872.5 1344.9 872.4 1348.3 872.4C1351.7 872.4 1355.1 872.2 1358.4 872.7C1361.8 873.2 1365.1 874.3 1368.4 875.2C1371.8 876.1 1375.1 877.0 1378.5 878.3C1381.9 879.5 1385.7 880.9 1388.6 882.7C1391.5 884.5 1393.6 887.1 1396.1 889.0C1398.6 890.9 1400.8 892.3 1403.7 894.0C1406.6 895.7 1410.4 897.4 1413.7 899.1C1417.0 900.8 1420.8 902.4 1423.8 904.1C1426.8 905.8 1428.9 906.9 1431.4 909.2C1433.9 911.5 1436.0 915.3 1438.9 918.0C1441.8 920.7 1445.7 922.6 1449.0 925.5C1452.3 928.4 1455.7 932.2 1459.0 935.6C1462.3 939.0 1465.7 942.2 1469.1 945.6C1472.5 949.0 1475.7 952.1 1479.2 955.7C1482.7 959.3 1486.7 963.3 1490.0 967.0C1493.3 970.7 1496.1 975.0 1499.0 978.0C1501.9 981.0 1504.2 982.1 1507.2 984.7C1510.2 987.3 1513.1 991.0 1517.3 993.5C1521.5 996.0 1527.8 998.3 1532.4 999.8C1537.0 1001.3 1540.8 1001.4 1545.0 1002.3C1549.2 1003.1 1553.3 1003.6 1557.5 1004.9C1561.7 1006.2 1565.4 1008.9 1570.1 1010.0C1574.8 1011.1 1580.2 1011.0 1585.6 1011.8C1591.0 1012.6 1598.0 1013.6 1602.6 1015.0C1607.2 1016.4 1609.7 1018.2 1613.2 1020.0C1616.8 1021.8 1619.3 1024.0 1623.9 1025.5C1628.5 1027.0 1635.6 1027.8 1640.9 1029.0C1646.2 1030.2 1646.0 1031.5 1655.8 1032.4C1665.6 1033.3 1684.0 1033.4 1700.0 1034.5C1716.0 1035.6 1735.0 1038.2 1751.7 1038.8C1768.4 1039.4 1778.7 1037.5 1800.0 1038.0C1821.3 1038.5 1850.8 1041.3 1879.5 1042.0C1908.2 1042.7 1956.6 1042.0 1972.0 1042.0"/>
<path stroke="#ff1212" d="M145.0 1002.0C145.4 1002.2 145.5 1002.2 147.6 1003.3C149.7 1004.4 153.8 1007.1 157.6 1008.4C161.4 1009.7 165.6 1009.2 170.2 1010.9C174.8 1012.6 180.7 1018.8 185.3 1018.4C189.9 1018.0 192.9 1010.7 197.9 1008.4C202.9 1006.1 210.5 1004.8 215.5 1004.6C220.5 1004.4 224.5 1007.7 228.1 1007.1C231.7 1006.5 234.0 1000.2 236.9 1000.8C239.8 1001.4 242.1 1008.4 245.7 1010.9C249.3 1013.4 254.1 1014.4 258.3 1015.9C262.5 1017.4 266.7 1017.6 270.9 1019.7C275.1 1021.8 280.1 1027.7 283.5 1028.5C286.9 1029.3 288.5 1027.2 291.0 1024.7C293.5 1022.2 295.2 1016.3 298.6 1013.4C302.0 1010.5 307.4 1008.4 311.2 1007.1C315.0 1005.9 317.8 1004.4 321.2 1005.9C324.6 1007.4 326.7 1013.8 331.3 1015.9C335.9 1018.0 344.3 1016.3 348.9 1018.4C353.5 1020.5 355.2 1026.2 359.0 1028.5C362.8 1030.8 367.0 1031.9 371.6 1032.3C376.2 1032.7 382.1 1031.8 386.7 1031.0C391.3 1030.2 395.1 1028.7 399.3 1027.2C403.5 1025.7 408.5 1024.9 411.8 1022.2C415.1 1019.5 416.4 1014.7 419.4 1010.9C422.3 1007.1 425.7 1001.7 429.5 999.6C433.3 997.5 438.2 998.3 442.0 998.3C445.8 998.3 448.7 1000.4 452.1 999.6C455.5 998.8 458.0 994.8 462.2 993.3C466.4 991.8 473.1 990.5 477.3 990.7C481.5 990.9 483.1 992.4 487.3 994.5C491.5 996.6 497.8 998.5 502.4 1003.3C507.0 1008.1 511.2 1018.5 515.0 1023.5C518.8 1028.5 521.3 1029.3 525.1 1033.5C528.9 1037.7 533.9 1045.6 537.7 1048.6C541.5 1051.6 543.5 1052.1 547.7 1051.7C551.9 1051.3 558.6 1049.5 562.8 1046.1C567.0 1042.6 568.7 1037.7 572.9 1031.0C577.1 1024.3 583.4 1013.4 588.0 1005.9C592.6 998.4 596.4 992.8 600.6 985.7C604.8 978.6 609.4 968.1 613.2 963.1C617.0 958.1 619.9 957.3 623.3 955.5C626.6 953.7 629.9 952.7 633.3 952.5C636.6 952.3 640.4 952.9 643.4 954.3C646.4 955.7 648.2 956.7 651.0 960.7C653.8 964.7 656.9 970.8 660.1 978.3C663.3 985.8 666.8 996.4 670.2 1006.0C673.6 1015.6 676.9 1026.1 680.3 1036.2C683.6 1046.3 686.5 1055.9 690.3 1066.4C694.1 1076.9 698.7 1089.4 702.9 1099.1C707.1 1108.8 711.7 1118.2 715.5 1124.3C719.3 1130.4 722.9 1133.5 725.6 1135.6C728.3 1137.7 729.4 1138.4 731.9 1136.9C734.4 1135.4 737.1 1132.7 740.7 1126.8C744.3 1120.9 749.1 1111.7 753.3 1101.6C757.5 1091.5 761.6 1079.4 765.8 1066.4C770.0 1053.4 774.2 1037.0 778.4 1023.6C782.6 1010.2 787.2 996.7 791.0 985.8C794.8 974.9 797.7 965.1 801.1 958.2C804.5 951.3 808.7 946.8 811.2 944.3C813.7 941.8 814.1 942.7 816.2 943.1C818.3 943.5 820.8 943.0 823.7 946.8C826.6 950.6 830.9 958.9 833.8 965.7C836.7 972.5 838.6 980.1 841.0 987.5C843.4 994.9 846.0 1003.0 848.2 1010.3C850.5 1017.5 852.5 1024.5 854.5 1031.0C856.5 1037.5 858.2 1042.9 860.0 1049.0C861.8 1055.1 863.6 1060.3 865.5 1067.5C867.4 1074.7 869.5 1083.8 871.5 1092.0C873.5 1100.2 875.7 1108.6 877.8 1117.0C879.9 1125.4 881.9 1134.5 884.0 1142.5C886.1 1150.5 888.2 1157.7 890.3 1165.0C892.4 1172.3 894.5 1179.9 896.6 1186.5C898.7 1193.1 900.8 1199.2 902.9 1204.5C905.0 1209.8 907.1 1214.4 909.2 1218.5C911.3 1222.6 913.4 1226.2 915.5 1229.0C917.6 1231.8 919.7 1234.1 921.8 1235.6C923.9 1237.1 926.0 1237.9 928.1 1238.0C930.2 1238.1 932.3 1237.5 934.4 1236.0C936.5 1234.5 938.6 1232.1 940.7 1229.0C942.8 1225.9 944.9 1222.0 947.0 1217.5C949.1 1213.0 951.2 1207.7 953.3 1202.0C955.4 1196.3 957.5 1190.3 959.6 1183.5C961.7 1176.7 963.7 1168.5 965.8 1161.0C967.9 1153.5 970.0 1146.7 972.1 1138.5C974.2 1130.3 976.4 1120.4 978.4 1111.7C980.4 1103.0 982.3 1095.0 984.2 1086.6C986.1 1078.2 988.1 1069.2 990.0 1061.4C991.9 1053.6 993.7 1046.9 995.4 1040.0C997.1 1033.1 998.0 1027.1 1000.0 1020.0C1002.0 1012.9 1004.6 1003.7 1007.5 997.2C1010.4 990.7 1014.1 984.6 1017.5 980.8C1020.9 977.0 1024.6 975.6 1027.6 974.5C1030.5 973.4 1032.7 973.1 1035.2 974.0C1037.7 974.9 1039.8 975.1 1042.7 979.6C1045.6 984.1 1049.4 992.4 1052.8 1001.0C1056.2 1009.6 1059.6 1020.3 1062.9 1031.2C1066.2 1042.1 1069.6 1053.8 1072.9 1066.4C1076.2 1079.0 1080.2 1094.4 1083.0 1106.7C1085.8 1119.0 1087.8 1129.4 1090.0 1140.0C1092.2 1150.6 1094.3 1160.1 1096.5 1170.2C1098.7 1180.3 1100.9 1190.7 1103.2 1200.4C1105.5 1210.2 1108.0 1220.2 1110.4 1228.7C1112.8 1237.2 1115.3 1244.5 1117.8 1251.4C1120.3 1258.3 1122.8 1265.0 1125.3 1270.3C1127.8 1275.6 1130.4 1279.7 1132.9 1283.5C1135.4 1287.3 1137.9 1290.7 1140.4 1292.9C1142.9 1295.1 1145.5 1296.2 1148.0 1296.7C1150.5 1297.2 1153.0 1297.0 1155.5 1295.7C1158.0 1294.4 1160.6 1292.7 1163.1 1289.1C1165.6 1285.5 1167.9 1280.3 1170.6 1274.0C1173.2 1267.7 1176.2 1259.6 1179.0 1251.4C1181.8 1243.2 1184.5 1233.5 1187.2 1225.0C1189.9 1216.5 1192.7 1208.6 1195.2 1200.3C1197.7 1192.0 1199.8 1183.4 1202.0 1175.0C1204.2 1166.6 1206.6 1157.3 1208.4 1150.0C1210.2 1142.7 1210.7 1141.2 1213.0 1131.0C1215.3 1120.8 1219.1 1102.8 1222.5 1089.0C1225.9 1075.2 1229.8 1060.9 1233.5 1048.5C1237.2 1036.1 1241.2 1024.1 1244.5 1014.5C1247.8 1004.9 1250.8 997.6 1253.5 991.0C1256.2 984.4 1258.6 979.6 1261.0 974.6C1263.4 969.6 1265.4 965.4 1267.8 961.0C1270.2 956.6 1272.8 952.0 1275.3 948.2C1277.8 944.4 1280.4 940.8 1282.9 938.1C1285.4 935.4 1287.9 933.6 1290.4 931.8C1292.9 929.9 1295.5 928.9 1298.0 927.0C1300.5 925.1 1303.4 922.1 1305.5 920.5C1307.6 918.9 1308.4 918.0 1310.5 917.3C1312.6 916.6 1315.1 916.2 1318.1 916.1C1321.0 916.0 1324.8 916.3 1328.2 916.7C1331.6 917.1 1335.3 917.9 1338.2 918.6C1341.1 919.3 1343.3 919.9 1345.8 921.1C1348.3 922.4 1350.4 924.5 1353.3 926.1C1356.2 927.7 1360.0 928.9 1363.4 930.5C1366.8 932.1 1370.2 933.9 1373.5 935.6C1376.8 937.3 1379.7 939.1 1383.5 940.6C1387.3 942.1 1392.3 942.7 1396.1 944.4C1399.9 946.1 1402.4 948.8 1406.2 950.7C1410.0 952.6 1414.6 954.2 1418.8 955.7C1423.0 957.2 1427.2 958.2 1431.4 959.5C1435.6 960.8 1439.7 961.6 1443.9 963.3C1448.1 965.0 1452.3 967.7 1456.5 969.6C1460.7 971.5 1464.9 972.9 1469.1 974.6C1473.3 976.3 1478.4 977.3 1481.7 979.6C1485.0 981.9 1486.8 985.3 1489.0 988.5C1491.2 991.7 1491.6 995.7 1494.6 998.6C1497.6 1001.5 1503.0 1004.2 1507.2 1006.1C1511.4 1008.0 1515.6 1008.6 1519.8 1009.9C1524.0 1011.2 1528.2 1012.5 1532.4 1013.7C1536.6 1015.0 1540.8 1016.4 1545.0 1017.4C1549.2 1018.4 1554.2 1019.5 1557.5 1020.0C1560.8 1020.5 1561.7 1021.3 1565.1 1020.7C1568.5 1020.1 1573.5 1017.0 1577.7 1016.2C1581.9 1015.5 1586.1 1015.9 1590.3 1016.2C1594.5 1016.5 1599.1 1016.3 1602.9 1017.8C1606.7 1019.3 1610.0 1023.2 1612.9 1025.0C1615.8 1026.8 1617.1 1027.5 1620.5 1028.5C1623.9 1029.5 1628.9 1030.6 1633.1 1031.3C1637.3 1032.0 1640.0 1032.2 1645.6 1032.6C1651.2 1033.0 1655.9 1033.0 1666.5 1033.5C1677.1 1034.0 1694.9 1034.7 1709.1 1035.6C1723.3 1036.5 1741.0 1038.1 1751.7 1038.8C1762.4 1039.5 1765.9 1040.1 1773.0 1039.9C1780.1 1039.7 1785.4 1038.1 1794.3 1037.7C1803.2 1037.3 1819.1 1037.2 1826.2 1037.7C1833.3 1038.2 1828.0 1040.2 1836.9 1040.9C1845.8 1041.6 1865.3 1042.0 1879.5 1042.0C1893.7 1042.0 1906.7 1040.9 1922.1 1040.9C1937.5 1040.9 1963.7 1041.8 1972.0 1042.0"/>
</g>
<g stroke="#1a1a1a" stroke-width="4.2" stroke-linecap="round">
<line x1="861" y1="1263.7" x2="923.3" y2="1249.5"/>
<line x1="896.9" y1="1365.6" x2="935.6" y2="1342"/>
<line x1="1177.2" y1="1299.5" x2="1264.3" y2="1232"/>
<line x1="1172.5" y1="1406.2" x2="1227.3" y2="1376"/>
</g>
</g>
<g filter="url(#bt)" stroke-linejoin="round">
<g font-size="77px" stroke-width="0.9">
<text x="1668.3" y="142.6" fill="#0a0a0a" stroke="#0a0a0a" textLength="115.5" lengthAdjust="spacingAndGlyphs">WT</text>
<text x="1667.4" y="234.6" fill="#ff1212" stroke="#ff1212" textLength="221.5" lengthAdjust="spacingAndGlyphs">T127A</text>
<text x="1667.4" y="326.8" fill="#1226ff" stroke="#1226ff" textLength="221.5" lengthAdjust="spacingAndGlyphs">T127S</text>
</g>
<g font-size="55.5px">
<text x="845.8" y="1287.4" text-anchor="end" fill="#ff1212" stroke="#ff1212" stroke-width="1.0">442</text>
<text x="885" y="1389.2" text-anchor="end" fill="#2b2b2b" stroke="#2b2b2b" stroke-width="0.7">444</text>
<text x="1274.6" y="1251.6" fill="#ff1212" stroke="#ff1212" stroke-width="1.0">476</text>
<text x="1235.8" y="1374.3" fill="#2b2b2b" stroke="#2b2b2b" stroke-width="0.7">478</text>
</g>
<g font-size="60px" fill="#2b2b2b" stroke="#2b2b2b" stroke-width="0.5" text-anchor="middle">
<text x="311.7" y="1498.6" textLength="97.8" lengthAdjust="spacingAndGlyphs">350</text>
<text x="644.0" y="1498.6" textLength="97.8" lengthAdjust="spacingAndGlyphs">400</text>
<text x="976.3" y="1498.6" textLength="97.8" lengthAdjust="spacingAndGlyphs">450</text>
<text x="1308.6" y="1498.6" textLength="97.8" lengthAdjust="spacingAndGlyphs">500</text>
<text x="1640.9" y="1498.6" textLength="97.8" lengthAdjust="spacingAndGlyphs">550</text>
<text x="1973.2" y="1498.6" textLength="97.8" lengthAdjust="spacingAndGlyphs">600</text>
</g>
<text y="1582.8" font-size="54px" fill="#2b2b2b" stroke="#2b2b2b" stroke-width="0.5"><tspan x="853" textLength="287" lengthAdjust="spacingAndGlyphs">Wavelength</tspan></text>
<g fill="#686868">
<text transform="translate(1154.3 1585) scale(1.3 1)" font-size="62px">[</text>
<text x="1178.8" y="1584.6" font-size="56px" textLength="84.8" lengthAdjust="spacingAndGlyphs">nm</text>
<text transform="translate(1269.3 1585) scale(1.27 1)" font-size="62px">]</text>
</g>
<text transform="translate(87.8 692) rotate(-90)" font-size="59.2px" word-spacing="-5px" fill="#2b2b2b" stroke="#2b2b2b" stroke-width="0.5">normalized absorbance</text>
<text transform="translate(96.2 1222.5) rotate(-90)" font-size="61px" fill="#2b2b2b" stroke="#2b2b2b" stroke-width="0.5">d<tspan font-size="43px" dy="-25" dx="-3.5">2</tspan><tspan dy="25" dx="0.5">(A)/d&#955;</tspan><tspan font-size="43px" dy="-25" dx="-1">2</tspan></text>
</g>
</svg></body></html>
